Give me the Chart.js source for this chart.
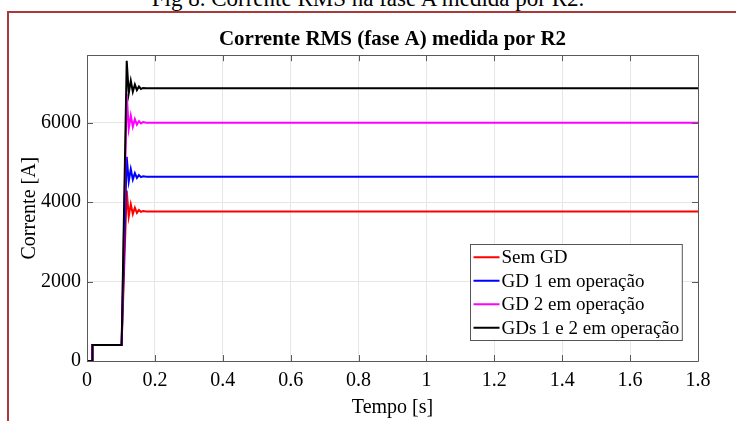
<!DOCTYPE html>
<html>
<head>
<meta charset="utf-8">
<script src="https://cdn.jsdelivr.net/npm/chart.js@4.4.1/dist/chart.umd.min.js"></script>
<style>
    html, body { margin: 0; padding: 0; background: #fff; overflow: hidden; }
    body { width: 736px; height: 421px; position: relative; font-family: 'Liberation Serif', serif; }
    #caption { position: absolute; left: 0; top: -13px; width: 736px; text-align: center; font-size: 23px; line-height: 23px; color: #000; }
    #frame { position: absolute; left: 7px; top: 11px; width: 760px; height: 520px; border: 2px solid #a63b3b; box-sizing: border-box; }
    #chart { position: absolute; left: 0; top: 0; }
</style>
</head>
<body>
<div id="caption">Fig 8. Corrente RMS na fase A medida por R2.</div>
<div id="frame"></div>
<canvas id="chart" width="736" height="421"></canvas>
<script>
// ── Data ─────────────────────────────────────
const tempo  = [0, 0.016, 0.016, 0.102, 0.117, 0.123, 0.129, 0.135, 0.141, 0.147, 0.153, 0.159, 0.165, 0.175, 1.8];
const semGD  = [0, 0, 400, 400, 4290, 3640, 3950, 3700, 3860, 3730, 3800, 3755, 3775, 3765, 3765];
const gd1    = [0, 0, 400, 400, 5140, 4520, 4830, 4570, 4730, 4610, 4680, 4630, 4650, 4640, 4640];
const gd2    = [0, 0, 400, 400, 6720, 5850, 6180, 5900, 6090, 5950, 6040, 5980, 6015, 6000, 6000];
const gd12   = [0, 0, 400, 400, 7560, 6740, 7060, 6780, 6960, 6820, 6910, 6850, 6875, 6865, 6865];

const seriesNames  = ['Sem GD', 'GD 1 em operação', 'GD 2 em operação', 'GDs 1 e 2 em operação'];
const seriesColors = ['#ff0000', '#0000ff', '#ff00ff', '#000000'];
const xTicks = [0, 0.2, 0.4, 0.6, 0.8, 1, 1.2, 1.4, 1.6, 1.8];
const yTicks = [0, 2000, 4000, 6000];

const FONT = "'Liberation Serif', 'Times New Roman', serif";

function pts(vals) { return tempo.map((t, i) => ({ x: t, y: vals[i] })); }

// ── MATLAB-like box with inward ticks ────────
const boxPlugin = {
    id: 'box',
    afterDatasetsDraw(chart) {
        const { ctx, chartArea: a, scales } = chart;
        ctx.save();
        ctx.strokeStyle = '#5a5a5a';
        ctx.lineWidth = 1;
        ctx.beginPath();
        ctx.rect(Math.round(a.left) + 0.5, Math.round(a.top) + 0.5, Math.round(a.right - a.left), Math.round(a.bottom - a.top));
        const tl = 6;
        xTicks.forEach(v => {
            const x = Math.round(scales.x.getPixelForValue(v)) + 0.5;
            ctx.moveTo(x, a.bottom); ctx.lineTo(x, a.bottom - tl);
            ctx.moveTo(x, a.top); ctx.lineTo(x, a.top + tl);
        });
        yTicks.forEach(v => {
            const y = Math.round(scales.y.getPixelForValue(v)) + 0.5;
            ctx.moveTo(a.left, y); ctx.lineTo(a.left + tl, y);
            ctx.moveTo(a.right, y); ctx.lineTo(a.right - tl, y);
        });
        ctx.stroke();
        ctx.restore();
    }
};

// ── Boxed legend inside the axes ─────────────
const boxLegend = {
    id: 'boxLegend',
    afterDraw(chart) {
        const { ctx, chartArea: a } = chart;
        const ds = chart.data.datasets;
        ctx.save();
        ctx.font = '19px ' + FONT;
        const textW = Math.max(...ds.map(d => ctx.measureText(d.label).width));
        const rowH = 23.5, sample = 26, gap = 2, pad = 3;
        const w = pad + sample + gap + textW + pad;
        const h = rowH * ds.length + 2;
        const x0 = Math.round(a.right - 16 - w) + 0.5;
        const y0 = Math.round(a.bottom - 21 - h) + 0.5;
        ctx.fillStyle = '#fff';
        ctx.fillRect(x0, y0, w, h);
        ctx.strokeStyle = '#555';
        ctx.lineWidth = 1;
        ctx.strokeRect(x0, y0, w, h);
        ds.forEach((d, i) => {
            const cy = y0 + 1 + rowH * (i + 0.5);
            ctx.strokeStyle = d.borderColor;
            ctx.lineWidth = 2;
            ctx.beginPath();
            ctx.moveTo(x0 + pad, cy); ctx.lineTo(x0 + pad + sample, cy);
            ctx.stroke();
            ctx.fillStyle = '#000';
            ctx.textBaseline = 'middle';
            ctx.fillText(d.label, x0 + pad + sample + gap, cy + 1);
        });
        ctx.restore();
    }
};

const allSeries = [semGD, gd1, gd2, gd12];

new Chart(document.getElementById('chart').getContext('2d'), {
    type: 'line',
    data: {
        datasets: allSeries.map((vals, i) => ({
            label: seriesNames[i],
            data: pts(vals),
            borderColor: seriesColors[i],
            backgroundColor: seriesColors[i],
            borderWidth: 2,
            pointRadius: 0,
            tension: 0,
            fill: false,
            order: allSeries.length - i,
        })),
    },
    options: {
        responsive: false,
        animation: false,
        layout: { padding: { left: 10, right: 38, top: 25, bottom: 1 } },
        plugins: {
            legend: { display: false },
            tooltip: { enabled: false },
            title: {
                display: true,
                fullSize: false,
                text: 'Corrente RMS (fase A) medida por R2',
                color: '#000',
                font: { family: FONT, size: 21, weight: 'bold' },
                padding: { top: 2, bottom: 3 },
            },
        },
        scales: {
            x: {
                type: 'linear',
                min: 0,
                max: 1.8,
                afterBuildTicks: s => { s.ticks = xTicks.map(v => ({ value: v })); },
                afterFit: s => { s.height = 59; },
                ticks: {
                    color: '#000',
                    font: { family: FONT, size: 20 },
                    padding: 8,
                    maxRotation: 0,
                    callback: v => String(Number(v.toFixed(1))),
                },
                grid: { color: '#e6e6e6', drawTicks: false },
                border: { display: false },
                title: {
                    display: true,
                    text: 'Tempo [s]',
                    color: '#000',
                    font: { family: FONT, size: 20 },
                    padding: { top: 0, bottom: 0 },
                },
            },
            y: {
                min: 0,
                max: 7700,
                afterBuildTicks: s => { s.ticks = yTicks.map(v => ({ value: v })); },
                afterFit: s => { s.width = 77; },
                ticks: {
                    color: '#000',
                    font: { family: FONT, size: 20 },
                    padding: 6,
                    callback: v => String(v),
                },
                grid: { color: '#e6e6e6', drawTicks: false },
                border: { display: false },
                title: {
                    display: true,
                    text: 'Corrente [A]',
                    color: '#000',
                    font: { family: FONT, size: 20 },
                    padding: { top: 8, bottom: 0 },
                },
            },
        },
    },
    plugins: [boxPlugin, boxLegend],
});
</script>
</body>
</html>
